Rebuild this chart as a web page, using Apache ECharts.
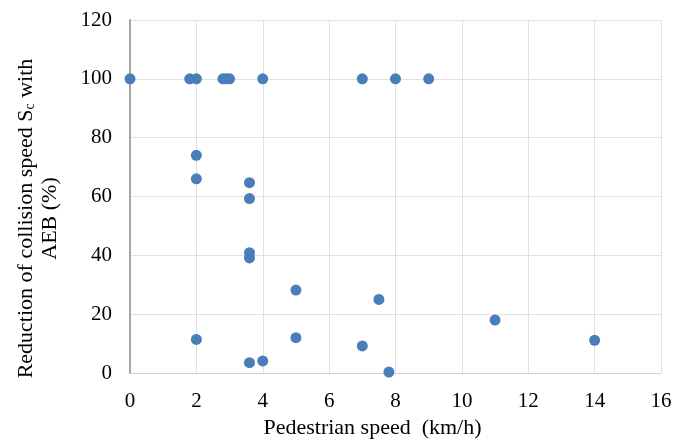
<!DOCTYPE html>
<html>
<head>
<meta charset="utf-8">
<script src="https://cdn.jsdelivr.net/npm/echarts@6/dist/echarts.min.js"></script>
<style>
  html, body { margin: 0; padding: 0; background: #fff; }
  #chart { width: 676px; height: 441px; }
</style>
</head>
<body>
<div id="chart"></div>
<script>
// pedestrian speed (km/h) and reduction of collision speed (%)
const pedSpeed = [0, 1.8, 2, 2.8, 2.9, 3, 4, 7, 8, 9,
  2, 2, 3.6, 3.6, 3.6, 3.6, 5, 7.5, 11, 2, 5, 14, 7, 4, 3.6, 7.8]
const reduction = [100, 100, 100, 100, 100, 100, 100, 100, 100, 100,
  74, 66, 64.7, 59.3, 40.9, 39.1, 28.2, 25, 18, 11.4, 12, 11.1, 9.2, 4.1, 3.5, 0.3]
const xTicks = [0, 2, 4, 6, 8, 10, 12, 14, 16]
const yTicks = [0, 20, 40, 60, 80, 100, 120]

const chart = echarts.init(document.getElementById('chart'))
const font = 'Liberation Serif'

chart.setOption({
  animation: false,
  grid: { left: 130, right: 15, top: 20, bottom: 68, outerBoundsMode: 'none' },
  xAxis: {
    type: 'value',
    min: xTicks[0],
    max: xTicks[xTicks.length - 1],
    interval: 2,
    name: 'Pedestrian speed  (km/h)',
    nameLocation: 'middle',
    nameGap: 44,
    nameTextStyle: { fontFamily: font, fontSize: 22, color: '#000', padding: [0, 46, 0, 0] },
    axisLine: { lineStyle: { color: '#d0d0d0' } },
    axisTick: { show: false },
    axisLabel: { fontFamily: font, fontSize: 21, color: '#000', margin: 18 },
    splitLine: { lineStyle: { color: '#e0e0e0' } }
  },
  yAxis: {
    type: 'value',
    min: yTicks[0],
    max: yTicks[yTicks.length - 1],
    interval: 20,
    name: '{t|Reduction of collision speed S}{s|c}{t| with}\n{t|AEB (%)}',
    nameLocation: 'middle',
    nameGap: 68,
    nameTextStyle: {
      fontFamily: font,
      fontSize: 22,
      color: '#000',
      padding: [0, 44, 0, 0],
      rich: {
        t: { fontFamily: font, fontSize: 22, color: '#000', lineHeight: 24 },
        s: { fontFamily: font, fontSize: 14, color: '#000', lineHeight: 24, padding: [9, 0, 0, 0] }
      }
    },
    axisLine: { show: true, lineStyle: { color: '#a6a6a6', width: 2 } },
    axisTick: { show: false },
    axisLabel: { fontFamily: font, fontSize: 21, color: '#000', margin: 18 },
    splitLine: { lineStyle: { color: '#e0e0e0' } }
  },
  series: [{
    type: 'scatter',
    symbolSize: 11,
    itemStyle: { color: '#4a7ebb', opacity: 1 },
    data: pedSpeed.map((x, i) => [x, reduction[i]])
  }]
})
</script>
</body>
</html>
